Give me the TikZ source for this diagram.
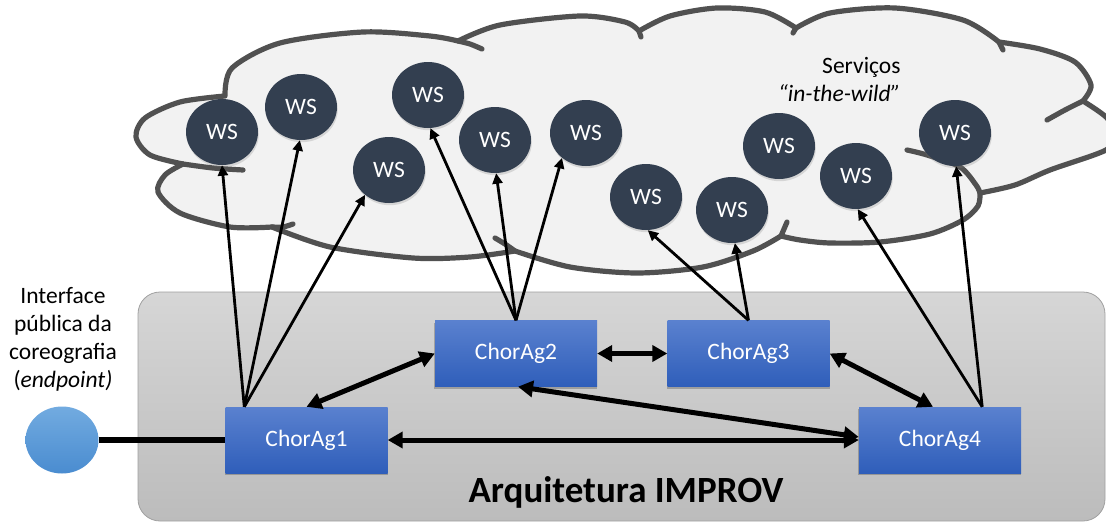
\documentclass[tikz,border=0pt]{standalone}
\usepackage{fontspec}
\setmainfont{Carlito}
\usetikzlibrary{shapes.geometric,arrows.meta,shadows}

\definecolor{cloudfill}{HTML}{F2F2F2}
\definecolor{cloudline}{HTML}{515151}
\definecolor{wsfill}{HTML}{333F50}
\definecolor{agtop}{HTML}{5A81CF}
\definecolor{agbot}{HTML}{2F5EBA}
\definecolor{eptop}{HTML}{72ABE0}
\definecolor{epbot}{HTML}{4A8CD0}
\definecolor{archtop}{HTML}{D6D6D6}
\definecolor{archbot}{HTML}{BCBCBC}
\definecolor{archline}{HTML}{A0A0A0}

\tikzset{
  lbl/.style={font=\fontsize{23.5}{28}\selectfont},
  ws/.style={ellipse, fill=wsfill, minimum width=72pt, minimum height=66pt,
    inner sep=0pt, text=white, lbl,
    drop shadow={opacity=0.25, shadow xshift=0.8pt, shadow yshift=-2.2pt}},
  agent/.style={rectangle, top color=agtop, bottom color=agbot,
    minimum width=162pt, minimum height=66pt, inner sep=0pt, text=white, lbl},
  agshadow/.style={fill=black, opacity=0.22},
  endpt/.style={ellipse, top color=eptop, bottom color=epbot,
    minimum width=73pt, minimum height=67pt, inner sep=0pt},
  call/.style={line width=2.8pt, -{Triangle[length=10.5pt,width=10pt]}},
  link/.style={line width=5pt,
    {Triangle[length=15pt,width=16pt]}-{Triangle[length=15pt,width=16pt]}},
  cloudedge/.style={draw=cloudline, line width=5.2pt, line join=round, line cap=round}
}

\begin{document}
\begin{tikzpicture}[x=1pt, y=-1pt]
\useasboundingbox (0,0) rectangle (1106,522);
\clip (0,0) rectangle (1106,522);

% architecture panel
\path[draw=archline, line width=0.8pt, top color=archtop, bottom color=archbot,
      rounded corners=22pt] (138,292) rectangle (1105,521);

% cloud of services
\filldraw[fill=cloudfill, cloudedge]
  plot[smooth] coordinates {(225,96) (232,68) (280,43) (363,32) (430,36) (458,41)}
  -- plot[smooth] coordinates {(458,41) (500,25) (580,16) (625,22) (639,31)}
  -- plot[smooth] coordinates {(639,31) (670,16) (717,8) (765,12) (796,28)}
  -- plot[smooth] coordinates {(796,28) (830,13) (895,8) (963,20) (999,42)}
  -- plot[smooth] coordinates {(999,42) (1040,49) (1075,62) (1091,85) (1083,101)}
  -- plot[smooth] coordinates {(1083,101) (1106,117) (1116,134) (1106,150) (1050,170) (1015,185) (980,193)}
  -- plot[smooth] coordinates {(980,193) (978,206) (963,220) (930,234) (880,242) (830,243) (800,240) (781,236)}
  -- plot[smooth] coordinates {(781,236) (753,251) (703,267) (637,273) (570,267) (515,251)}
  -- plot[smooth] coordinates {(515,251) (470,257) (413,258) (330,247) (272,227)}
  -- plot[smooth] coordinates {(272,227) (230,227) (180,213) (158,192) (165,175) (183,164)}
  -- plot[smooth] coordinates {(183,164) (150,155) (136,137) (145,118) (180,102) (225,96)}
  -- cycle;

% inner ends of the cloud lobes
\draw[cloudedge] plot[smooth] coordinates {(458,41) (470,44) (482,49)};
\draw[cloudedge] (639,31) -- (641,37);
\draw[cloudedge] (796,28) -- (793,33);
\draw[cloudedge] (999,42) -- (1003,50);
\draw[cloudedge] plot[smooth] coordinates {(1083,101) (1065,110) (1047,120)};
\draw[cloudedge] plot[smooth] coordinates {(907,150) (927,155) (960,167) (976,185) (980,193)};
\draw[cloudedge] plot[smooth] coordinates {(781,236) (784,229) (787,222)};
\draw[cloudedge] plot[smooth] coordinates {(515,251) (505,244) (495,238)};
\draw[cloudedge] plot[smooth] coordinates {(272,227) (283,227) (293,224)};
\draw[cloudedge] plot[smooth] coordinates {(183,164) (213,168) (243,170)};

% web services
\node[ws] (ws1)  at (222,132) {WS};
\node[ws] (ws2)  at (301,107) {WS};
\node[ws] (ws3)  at (389,170) {WS};
\node[ws] (ws4)  at (428,95)  {WS};
\node[ws] (ws5)  at (495,140) {WS};
\node[ws] (ws6)  at (586,133) {WS};
\node[ws] (ws7)  at (646,197) {WS};
\node[ws] (ws8)  at (732,210) {WS};
\node[ws] (ws9)  at (779,146) {WS};
\node[ws] (ws10) at (856,176) {WS};
\node[ws] (ws11) at (955,133) {WS};

\node[lbl, align=right, anchor=east] (wild) at (904,80)
  {Serviços\\\textit{“in-the-wild”}};

% soft shadows under the agent boxes
\fill[agshadow] (224.5,409) rectangle (387.5,475);
\fill[agshadow] (434,322.5) rectangle (597,388.5);
\fill[agshadow] (666.5,322.5) rectangle (829.5,388.5);
\fill[agshadow] (858,409) rectangle (1021,475);

% choreography agents
\node[agent] (c1) at (306.5,440) {ChorAg1};
\node[agent] (c2) at (516,353.5) {ChorAg2};
\node[agent] (c3) at (748.5,353.5) {ChorAg3};
\node[agent] (c4) at (940,440) {ChorAg4};

% public endpoint
\node[endpt] (ep) at (62,440) {};
\node[lbl, align=center] (eplbl) at (63,339)
  {Interface\\pública da\\coreografia\\(\textit{endpoint)}};

\node[font=\fontsize{37}{44}\selectfont\bfseries, anchor=base] (arch) at (626,502)
  {Arquitetura IMPROV};

% connection to the endpoint
\draw[line width=6pt] (ep.east) -- (c1.west);

% agent-to-agent links
\draw[link] (c1.north) -- (c2.west);
\draw[link] (c2.east) -- (c3.west);
\draw[link] (c3.east) -- ([xshift=-7pt]c4.north);
\draw[link] (c1.east) -- (c4.west);
\draw[link] ([xshift=2pt]c2.south) -- ([yshift=3pt]c4.west);

% service invocations
\coordinate (o1) at ([xshift=19pt]c1.north west);
\coordinate (o2) at (c2.north);
\coordinate (o3) at (c3.north);
\coordinate (o4) at ([xshift=-39pt]c4.north east);

\draw[call] (o1) -- (ws1.south);
\draw[call] (o1) -- (ws2.268);
\draw[call] (o1) -- (ws3.226);
\draw[call] (o2) -- (ws4.274);
\draw[call] (o2) -- (ws5.272);
\draw[call] (o2) -- (ws6.226);
\draw[call] (o3) -- (ws7.273);
\draw[call] (o3) -- (ws8.275);
\draw[call] (o4) -- (ws10.273);
\draw[call] (o4) -- (ws11.272);
\end{tikzpicture}
\end{document}
